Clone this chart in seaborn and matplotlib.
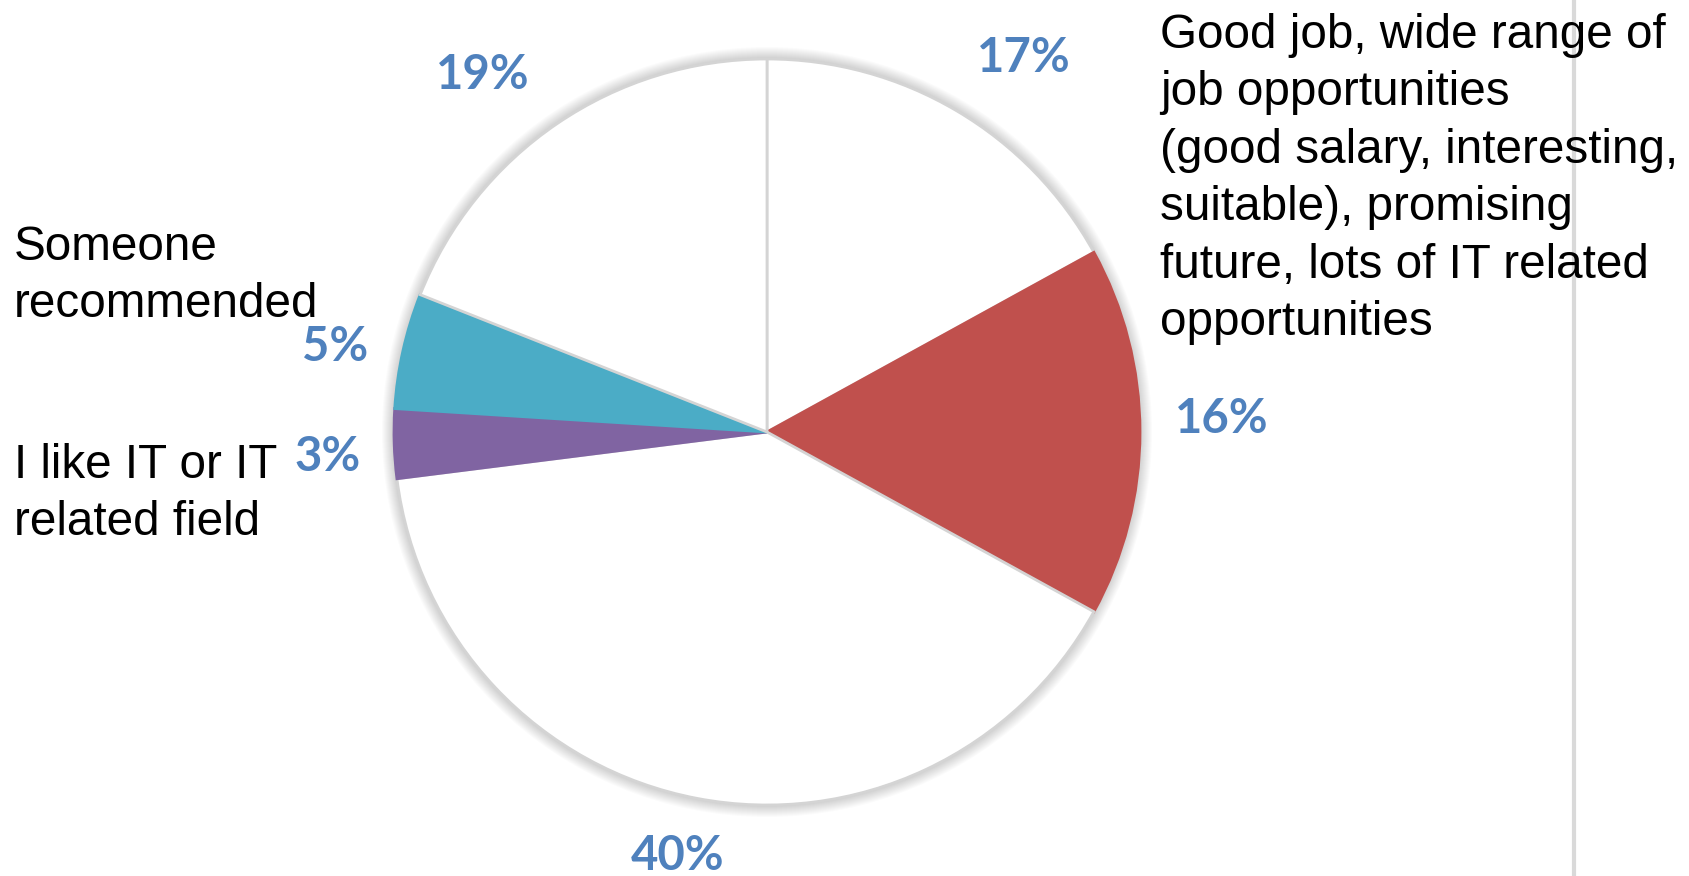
import matplotlib
matplotlib.use("Agg")
import matplotlib.pyplot as plt
import seaborn as sns
from matplotlib.patches import Circle

# slices, clockwise from 12 o'clock
shares = [17, 16, 40, 3, 5, 19]
pct_labels = ["17%", "16%", "40%", "3%", "5%", "19%"]
slice_colors = ["#ffffff", "#c0504d", "#ffffff", "#8064a2", "#4bacc6", "#ffffff"]

# category captions
cat_good_job = ("Good job, wide range of\njob opportunities\n(good salary, interesting,\n"
                "suitable), promising\nfuture, lots of IT related\nopportunities")
cat_recommended = "Someone\nrecommended"
cat_like_it = "I like IT or IT\nrelated field"

sns.set_style("white")
plt.rcParams["font.family"] = ["Liberation Sans", "DejaVu Sans"]

W, H = 1689, 876
fig = plt.figure(figsize=(W / 100, H / 100), dpi=100)
ax = fig.add_axes([0, 0, 1, 1])

cx, cy, r = 767, H - 432, 373

# soft shadow round the pie
for k in range(12, 0, -1):
    ax.add_patch(Circle((cx, cy), r + k * 1.0, color="#000000", alpha=0.016, lw=0, zorder=0))

wedges, _ = ax.pie(shares, colors=slice_colors, startangle=90, counterclock=False,
                   center=(cx, cy), radius=r, frame=True,
                   wedgeprops=dict(linewidth=2))
for w, c in zip(wedges, slice_colors):
    w.set_zorder(1)
    w.set_edgecolor("#d4d4d4" if c == "#ffffff" else c)

# percent labels (pixel positions, y from top)
pct_pos = [(1024, 58), (1222, 419), (678, 856), (328, 457), (335, 347), (483, 75)]
for txt, (x, y) in zip(pct_labels, pct_pos):
    ax.text(x, H - y, txt, color="#4f81bd", fontsize=34, fontweight="bold",
            family=["Lato", "DejaVu Sans"], ha="center", va="center", zorder=3)

LS = 1.354
STEP = 58.4
ax.text(1160, H - (43 + 5 * STEP), cat_good_job, fontsize=34.3, color="black",
        ha="left", va="baseline", linespacing=LS, zorder=3)
ax.text(14, H - (259 + STEP), cat_recommended, fontsize=34.3, color="black",
        ha="left", va="baseline", linespacing=LS, zorder=3)
ax.text(14, H - (477 + STEP), cat_like_it, fontsize=34.3, color="black",
        ha="left", va="baseline", linespacing=LS, zorder=3)

ax.axvline(1574, color="#d9d9d9", lw=3, zorder=0)

ax.set_xlim(0, W)
ax.set_ylim(0, H)
ax.set_aspect("equal")
ax.axis("off")

fig.savefig("out.png", dpi=100, facecolor="white")
